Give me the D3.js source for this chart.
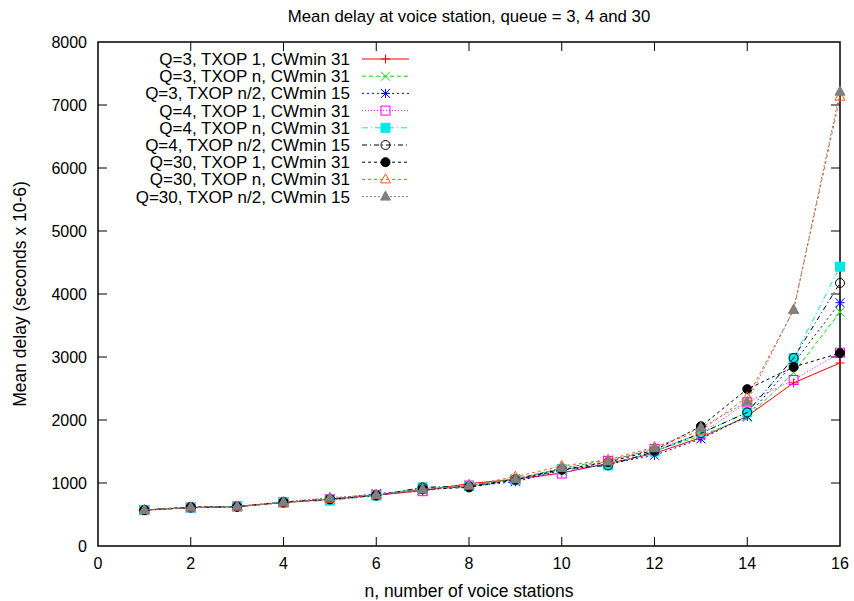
<!DOCTYPE html>
<html>
<head>
<meta charset="utf-8">
<script src="https://cdn.jsdelivr.net/npm/d3@7"></script>
<style>
  body { margin: 0; background: #fff; }
  text { font-family: "Liberation Sans", Arial, sans-serif; fill: #000; }
</style>
</head>
<body>
<svg id="plot" width="854" height="601"></svg>
<script>
// n, number of voice stations
const N_STATIONS = [1, 2, 3, 4, 5, 6, 7, 8, 9, 10, 11, 12, 13, 14, 15, 16];

// mean delay values, one array per curve (seconds x 10-6)
const Q3_TXOP1   = [570, 610, 625, 690, 740, 805, 880, 990, 1060, 1160, 1310, 1470, 1720, 2060, 2590, 2905];
const Q3_TXOPN   = [570, 610, 625, 690, 745, 810, 890, 950, 1070, 1230, 1370, 1510, 1750, 2040, 2750, 3714];
const Q3_TXOPN2  = [570, 610, 625, 695, 745, 830, 890, 950, 1020, 1200, 1300, 1440, 1700, 2060, 2900, 3862];
const Q4_TXOP1   = [570, 610, 630, 690, 740, 810, 870, 960, 1050, 1150, 1350, 1540, 1780, 2280, 2635, 3069];
const Q4_TXOPN   = [570, 610, 625, 700, 720, 800, 930, 950, 1050, 1220, 1280, 1500, 1790, 2120, 2984, 4434];
const Q4_TXOPN2  = [570, 610, 625, 700, 740, 800, 930, 950, 1060, 1220, 1280, 1500, 1790, 2120, 2984, 4175];
const Q30_TXOP1  = [570, 620, 625, 690, 745, 810, 900, 930, 1050, 1210, 1330, 1520, 1900, 2490, 2841, 3063];
const Q30_TXOPN  = [570, 610, 625, 690, 750, 810, 900, 960, 1100, 1270, 1370, 1570, 1830, 2360, 3746, 7132];
const Q30_TXOPN2 = [575, 615, 630, 700, 766, 815, 900, 960, 1060, 1240, 1340, 1550, 1880, 2290, 3750, 7211];

const SERIES_NAMES = [
  'Q=3, TXOP 1, CWmin 31', 'Q=3, TXOP n, CWmin 31', 'Q=3, TXOP n/2, CWmin 15',
  'Q=4, TXOP 1, CWmin 31', 'Q=4, TXOP n, CWmin 31', 'Q=4, TXOP n/2, CWmin 15',
  'Q=30, TXOP 1, CWmin 31', 'Q=30, TXOP n, CWmin 31', 'Q=30, TXOP n/2, CWmin 15'
];
const SERIES_VALUES = [Q3_TXOP1, Q3_TXOPN, Q3_TXOPN2, Q4_TXOP1, Q4_TXOPN, Q4_TXOPN2, Q30_TXOP1, Q30_TXOPN, Q30_TXOPN2];

const X_TICKS = [0, 2, 4, 6, 8, 10, 12, 14, 16];
const Y_TICKS = [0, 1000, 2000, 3000, 4000, 5000, 6000, 7000, 8000];

// gnuplot-like line types
const STYLES = [
  { color: '#ff0000', dash: null,          marker: 'plus' },
  { color: '#00e000', dash: '4,3',         marker: 'cross' },
  { color: '#0000ff', dash: '2,3',         marker: 'star' },
  { color: '#ff00ff', dash: '1,2',         marker: 'box' },
  { color: '#00e8e8', dash: '6,3,1,3',     marker: 'fbox' },
  { color: '#000000', dash: '5,3,1,3',     marker: 'circle' },
  { color: '#000000', dash: '3,3',         marker: 'fcircle' },
  { color: '#ff5a1a', dash: '3,3',         marker: 'triangle' },
  { color: '#808080', dash: '2,2',         marker: 'ftriangle' }
];

const svg = d3.select('#plot');
const margin = { left: 98, right: 14, top: 42, bottom: 55 };
const W = 854, H = 601;

const x = d3.scaleLinear().domain([0, 16]).range([margin.left, W - margin.right]);
const y = d3.scaleLinear().domain([0, 8000]).range([H - margin.bottom, margin.top]);

// draw one point marker
function drawMarker(g, type, cx, cy, color) {
  const s = 4.5;
  if (type === 'plus') {
    g.append('path').attr('d', `M${cx - s},${cy}H${cx + s}M${cx},${cy - s}V${cy + s}`)
      .attr('stroke', color).attr('fill', 'none');
  } else if (type === 'cross') {
    g.append('path').attr('d', `M${cx - s},${cy - s}L${cx + s},${cy + s}M${cx - s},${cy + s}L${cx + s},${cy - s}`)
      .attr('stroke', color).attr('fill', 'none');
  } else if (type === 'star') {
    g.append('path').attr('d', `M${cx - s},${cy}H${cx + s}M${cx},${cy - s}V${cy + s}M${cx - s},${cy - s}L${cx + s},${cy + s}M${cx - s},${cy + s}L${cx + s},${cy - s}`)
      .attr('stroke', color).attr('fill', 'none');
  } else if (type === 'box' || type === 'fbox') {
    g.append('rect').attr('x', cx - s).attr('y', cy - s).attr('width', 2 * s).attr('height', 2 * s)
      .attr('stroke', color).attr('fill', type === 'fbox' ? color : 'none');
  } else if (type === 'circle' || type === 'fcircle') {
    g.append('circle').attr('cx', cx).attr('cy', cy).attr('r', s)
      .attr('stroke', color).attr('fill', type === 'fcircle' ? color : 'none');
  } else {
    g.append('path').attr('d', `M${cx},${cy - s - 1}L${cx + s + 0.5},${cy + s - 1}L${cx - s - 0.5},${cy + s - 1}Z`)
      .attr('stroke', color).attr('fill', type === 'ftriangle' ? color : 'none');
  }
}

// frame
svg.append('rect')
  .attr('x', x(0)).attr('y', y(8000))
  .attr('width', x(16) - x(0)).attr('height', y(0) - y(8000))
  .attr('fill', 'none').attr('stroke', '#000').attr('stroke-width', 1.5);

// axes with inward ticks, mirrored
const tickLen = 9;
const xAxis = svg.append('g');
X_TICKS.forEach(t => {
  if (t > 0 && t < 16) {
    xAxis.append('line').attr('x1', x(t)).attr('x2', x(t)).attr('y1', y(0)).attr('y2', y(0) - tickLen).attr('stroke', '#000');
    xAxis.append('line').attr('x1', x(t)).attr('x2', x(t)).attr('y1', y(8000)).attr('y2', y(8000) + tickLen).attr('stroke', '#000');
  }
  xAxis.append('text').attr('x', x(t)).attr('y', y(0) + 23).attr('text-anchor', 'middle')
    .style('font-size', '16px').text(t);
});
const yAxis = svg.append('g');
Y_TICKS.forEach(t => {
  if (t > 0 && t < 8000) {
    yAxis.append('line').attr('x1', x(0)).attr('x2', x(0) + tickLen).attr('y1', y(t)).attr('y2', y(t)).attr('stroke', '#000');
    yAxis.append('line').attr('x1', x(16)).attr('x2', x(16) - tickLen).attr('y1', y(t)).attr('y2', y(t)).attr('stroke', '#000');
  }
  yAxis.append('text').attr('x', x(0) - 11).attr('y', y(t) + 6).attr('text-anchor', 'end')
    .style('font-size', '16px').text(t);
});

// titles
svg.append('text').attr('x', (x(0) + x(16)) / 2).attr('y', 22).attr('text-anchor', 'middle')
  .style('font-size', '16.8px').text('Mean delay at voice station, queue = 3, 4 and 30');
svg.append('text').attr('x', (x(0) + x(16)) / 2).attr('y', 597).attr('text-anchor', 'middle')
  .style('font-size', '17.5px').text('n, number of voice stations');
svg.append('text').attr('transform', `translate(26,${(y(0) + y(8000)) / 2}) rotate(-90)`)
  .attr('text-anchor', 'middle').style('font-size', '17.5px').text('Mean delay (seconds x 10-6)');

// curves
const line = d3.line().x(d => x(d[0])).y(d => y(d[1]));
const curves = svg.append('g');
SERIES_VALUES.forEach((vals, i) => {
  const st = STYLES[i];
  const pts = N_STATIONS.map((n, j) => [n, vals[j]]);
  curves.append('path').datum(pts).attr('d', line)
    .attr('fill', 'none').attr('stroke', st.color).attr('stroke-width', 1)
    .attr('stroke-dasharray', st.dash);
  const mg = curves.append('g');
  pts.forEach(p => drawMarker(mg, st.marker, x(p[0]), y(p[1]), st.color));
});

// legend
const legend = svg.append('g');
SERIES_NAMES.forEach((name, i) => {
  const st = STYLES[i];
  const ly = 59 + i * 17.2;
  legend.append('text').attr('x', 350).attr('y', ly + 6).attr('text-anchor', 'end')
    .style('font-size', '17px').text(name);
  legend.append('line').attr('x1', 362).attr('x2', 409).attr('y1', ly).attr('y2', ly)
    .attr('stroke', st.color).attr('stroke-dasharray', st.dash);
  drawMarker(legend, st.marker, 385.5, ly, st.color);
});
</script>
</body>
</html>
